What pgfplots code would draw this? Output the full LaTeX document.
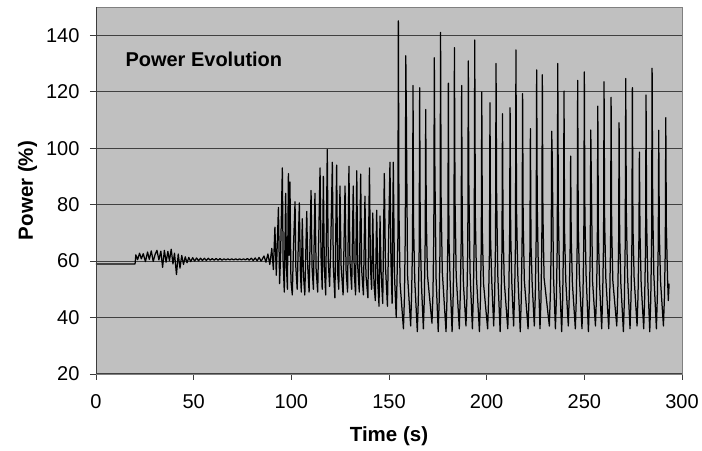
\documentclass[border=0pt]{standalone}
\usepackage{fontspec}
\setmainfont{Liberation Sans}
\usepackage{pgfplots}
\pgfplotsset{compat=1.18}

\definecolor{plotgray}{RGB}{192,192,192}
\definecolor{framegray}{RGB}{128,128,128}
\definecolor{axisdark}{RGB}{60,60,60}

\begin{document}
\begin{tikzpicture}
\begin{axis}[
    name=ax,
    scale only axis,
    width=586pt, height=367pt,
    xmin=0, xmax=300, ymin=20, ymax=150,
    xtick={0,50,...,300}, ytick={20,40,...,140},
    axis background/.style={fill=plotgray},
    axis line style={draw=framegray, line width=0.8pt},
    ymajorgrids,
    grid style={draw=black!75, line width=1pt},
    tick align=outside, tick pos=left,
    major tick length=6pt,
    tick style={draw=axisdark, line width=0.9pt},
    ticklabel style={font=\fontsize{20}{24}\selectfont},
    xticklabel style={yshift=-11pt},
    yticklabel style={xshift=-7pt},
    /pgf/number format/assume math mode=true,
    xlabel={Time (s)}, ylabel={Power (\%)},
    label style={font=\bfseries\fontsize{20.5}{24}\selectfont},
    xlabel style={yshift=-11pt},
    ylabel style={yshift=2pt},
]
% early phase: steady, small oscillation, slow growth
\addplot[black, line width=1.25pt, line join=round] coordinates {
(0,59) (20,59) (20.4,62.2) (21.3,60.5) (22.3,62.8) (23.2,60.8) (24.2,62.6) (25.3,59.8)
(26.4,63.2) (27.3,60.6) (28.3,63.6) (29.3,59.9) (30.3,62.4) (31.2,63.8) (32.2,60.4)
(33.2,63.5) (34.1,57.8) (35.0,63.8) (35.9,59.6) (36.8,63.4) (37.6,60.1) (38.5,64.2)
(39.4,59) (40.2,62.8) (41.2,55.2) (42.1,62.5) (43.0,57.5) (43.9,62) (44.8,58.8)
(45.7,61.5) (46.6,59.4) (47.5,61.3) (48.5,59.8) (49.5,61.2) (50.5,60) (51.5,61.1)
(52.5,60.1) (53.5,61) (54.5,60.2) (55.5,61) (56.5,60.2) (57.5,61) (58.5,60.3)
(59.5,60.9) (60.5,60.3) (61.5,60.9) (62.5,60.3) (63.5,60.9) (64.5,60.3) (65.5,60.8)
(66.5,60.4) (67.5,60.8) (68.5,60.4) (69.5,60.8) (70.5,60.4) (71.5,60.8) (72.5,60.4)
(73.5,60.8) (74.5,60.4) (75.5,60.8) (76.5,60.4) (77.5,60.9) (78.5,60.3) (79.5,61)
(80.5,60.2) (81.5,61.1) (82.5,60.1) (83.5,61.3) (84.5,60)
% growing oscillation
(85,60.5) (86,61.8) (87,59.6) (88,62.5) (89,58.8) (90,64.5) (90.8,57) (91.6,72)
(92.3,55) (92.8,66) (93.4,79) (94.0,52) (94.5,62) (95.4,93) (95.8,60) (96.4,49)
(97.1,84) (97.5,58) (98.0,50) (98.5,91) (98.9,62) (99.3,88) (99.8,53) (100.5,48)
(101.1,65) (101.9,81) (102.3,58) (103.0,50) (104.1,80.6) (104.6,57) (105.1,49)
(105.6,75) (106.2,55) (106.9,48) (107.9,77.6) (108.4,58) (109.1,49) (110.1,85)
(110.6,58) (111.3,50) (112.1,84) (112.7,57) (113.5,49) (114.7,93) (115.2,62)
(115.8,50) (116.4,90) (116.9,58) (117.6,48) (118.4,99.5) (118.9,60) (119.6,51)
(120.2,66) (121.0,95) (121.5,58) (122.3,47) (123.2,94) (123.7,56) (124.3,50)
(124.9,86.6) (125.5,58) (126.5,48) (127.5,86.6) (128.0,57) (128.8,49) (129.5,93.6)
(130.0,60) (130.9,50) (131.7,86.6) (132.2,56) (132.9,48) (133.5,92) (134.0,58)
(134.8,49) (135.5,90.8) (136.0,57) (136.9,48) (137.7,83) (138.2,55) (139.2,47)
(140.0,93) (140.5,58) (141.1,50) (141.7,77) (142.3,52) (143.0,46) (143.7,78)
(144.3,52) (144.9,44) (145.4,76) (146.0,55) (146.8,45) (147.6,91) (148.2,58)
(149.2,44) (150.5,95) (151.0,60) (151.6,45) (152.2,95) (152.8,55) (153.7,40)
% large oscillation
(154.55,68) (154.8,145.1) (155.1,78) (155.7,52) (157.4,36) (157.9,47) (158.35,70)
(158.6,132.7) (158.9,111) (159.5,55) (161.1,37) (161.6,49) (162.05,66)
(162.3,122.2) (162.6,72) (163.2,53) (164.5,35) (165.0,46) (165.45,64)
(165.7,121.4) (166.0,70) (166.6,52) (167.6,36) (168.1,47) (168.55,68)
(168.8,113.7) (169.1,75) (169.7,55) (172.0,38) (172.5,48) (172.95,70)
(173.2,132) (173.5,92) (174.1,54) (175.2,35) (175.7,46) (176.15,66)
(176.4,141) (176.7,80) (177.3,56) (179.2,35) (179.7,47) (180.15,68)
(180.4,123) (180.7,68) (181.3,53) (182.3,35) (182.8,46) (183.25,64)
(183.5,135.6) (183.8,82) (184.4,55) (186.0,36) (186.5,48) (186.95,67)
(187.2,122.2) (187.5,73) (188.1,52) (189.4,37) (189.9,47) (190.35,65)
(190.6,130.9) (190.9,86) (191.5,56) (192.7,36) (193.2,48) (193.65,69)
(193.9,138.3) (194.2,76) (194.8,54) (196.3,35) (196.8,46) (197.25,66)
(197.5,119.9) (197.8,70) (198.4,52) (200.5,36) (201.0,47) (201.45,64)
(201.7,116.1) (202.0,68) (202.6,53) (203.6,37) (204.1,48) (204.55,67)
(204.8,130) (205.1,84) (205.7,55) (206.9,35) (207.4,46) (207.85,65)
(208.1,112.2) (208.4,72) (209.0,53) (210.8,36) (211.3,47) (211.75,68)
(212.0,114.3) (212.3,70) (212.9,52) (213.8,37) (214.3,48) (214.75,66)
(215.0,134.8) (215.3,78) (215.9,56) (217.2,35) (217.7,46) (218.15,67)
(218.4,119.3) (218.7,74) (219.3,53) (221.2,36) (221.7,47) (222.15,64)
(222.4,106.9) (222.7,66) (223.3,52) (224.4,37) (224.9,48) (225.35,68)
(225.6,127.7) (225.9,80) (226.5,55) (227.3,36) (227.8,46) (228.25,66)
(228.5,126) (228.8,77) (229.4,54) (232.1,37) (232.6,48) (233.05,65)
(233.3,106) (233.6,96) (234.2,55) (235.2,36) (235.7,47) (236.15,66)
(236.4,130) (236.7,78) (237.3,54) (238.4,35) (238.9,46) (239.35,67)
(239.6,120.2) (239.9,70) (240.5,53) (241.8,37) (242.3,48) (242.75,65)
(243.0,97.2) (243.3,68) (243.9,52) (245.4,36) (245.9,47) (246.35,66)
(246.6,124) (246.9,72) (247.5,54) (248.8,36) (249.3,48) (249.75,68)
(250.0,127) (250.3,76) (250.9,55) (252.1,35) (252.6,46) (253.05,65)
(253.3,106.4) (253.6,88) (254.2,53) (255.7,37) (256.2,47) (256.65,64)
(256.9,114.9) (257.2,70) (257.8,52) (258.9,36) (259.4,48) (259.85,67)
(260.1,123.5) (260.4,74) (261.0,54) (262.5,36) (263.0,47) (263.45,66)
(263.7,118) (264.0,72) (264.6,53) (266.6,37) (267.1,48) (267.55,65)
(267.8,109) (268.1,69) (268.7,52) (270.0,35) (270.5,46) (270.95,67)
(271.2,124.7) (271.5,78) (272.1,55) (273.4,36) (273.9,47) (274.35,66)
(274.6,121.4) (274.9,72) (275.5,54) (277.0,37) (277.5,48) (277.95,68)
(278.2,98.6) (278.5,70) (279.1,52) (280.4,36) (280.9,47) (281.35,65)
(281.6,118.8) (281.9,74) (282.5,53) (283.5,35) (284.0,46) (284.45,67)
(284.7,128.3) (285.0,80) (285.6,55) (286.9,36) (287.4,48) (287.85,66)
(288.1,106.3) (288.4,70) (289.0,53) (290.5,37) (291.0,47) (291.45,64)
(291.7,110.8) (292.0,72) (292.6,54) (293.0,46) (293.4,52)
};
\draw[axisdark, line width=0.9pt] (rel axis cs:0,1) -- (rel axis cs:0,0) -- (rel axis cs:1,0);
\node[anchor=west, font=\bfseries\fontsize{20}{24}\selectfont] at (axis cs:13.3,131.5) {Power Evolution};
\end{axis}
\path (ax.south west) ++(-96pt,-77pt) coordinate (bl);
\path (ax.north east) ++(20pt,7pt) coordinate (tr);
\path (bl) rectangle (tr);
\end{tikzpicture}
\end{document}
